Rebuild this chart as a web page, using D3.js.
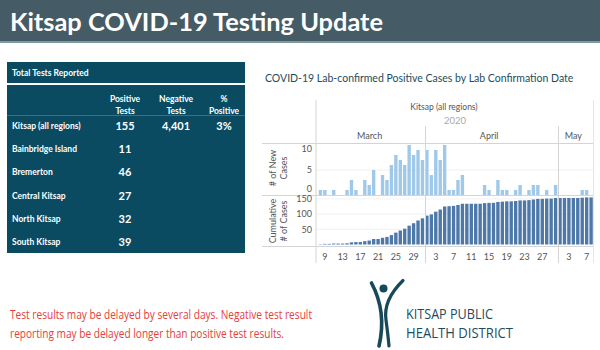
<!DOCTYPE html>
<html>
<head>
<meta charset="utf-8">
<script src="https://cdn.jsdelivr.net/npm/d3@7"></script>
<style>
  body { margin: 0; background: #fff; }
  svg { display: block; font-family: Lato, "Open Sans", sans-serif; }
</style>
</head>
<body>
<div id="chart"></div>
<script>
// Table values
const regions = ["Kitsap (all regions)", "Bainbridge Island", "Bremerton", "Central Kitsap", "North Kitsap", "South Kitsap"];
const positiveTests = ["155", "11", "46", "27", "32", "39"];
const negativeTests = ["4,401"];
const pctPositive = ["3%"];
const tableColumns = [["Positive", "Tests"], ["Negative", "Tests"], ["%", "Positive"]];

// Daily series, Mar 8 - May 8 2020
const firstDay = new Date(2020, 2, 8);
const lastDay = new Date(2020, 4, 8);
const newCases = [
  1, 1, 0, 1, 0, 0, 1, 3, 1, 0, 3, 2, 5, 0, 4, 3, 6, 8, 7, 6, 10, 8, 9, 7,
  9, 4, 9, 7, 10, 1, 1, 3, 4, 0, 0, 0, 0, 2, 1, 0, 3, 1, 1, 0, 1, 2, 0, 1, 2, 2, 0, 1, 0, 2,
  0, 0, 0, 0, 0, 1, 1, 0
];
const cumulativeCases = [
  1, 2, 2, 3, 3, 3, 4, 7, 8, 8, 11, 13, 18, 18, 22, 25, 31, 39, 46, 52, 62, 70, 79, 86,
  95, 99, 108, 115, 125, 126, 127, 130, 134, 134, 134, 134, 134, 136, 137, 137, 140, 141, 142, 142, 143, 145, 145, 146, 148, 150, 150, 151, 151, 153,
  153, 153, 153, 153, 153, 154, 155, 155
];
const tickDays = ["2020-03-09", "2020-03-13", "2020-03-17", "2020-03-21", "2020-03-25", "2020-03-29",
  "2020-04-03", "2020-04-07", "2020-04-11", "2020-04-15", "2020-04-19", "2020-04-23", "2020-04-27",
  "2020-05-03", "2020-05-07"];
const months = ["March", "April", "May"];
const newTicks = [0, 5, 10];
const cumTicks = [50, 100, 150];

const W = 600, H = 350;
const svg = d3.select("#chart").append("svg").attr("width", W).attr("height", H);

// ---- header
svg.append("rect").attr("x", 0).attr("y", 0).attr("width", W).attr("height", 41).attr("fill", "#455b65");
svg.append("rect").attr("x", 0).attr("y", 41).attr("width", W).attr("height", 2).attr("fill", "#7d999f");
svg.append("text").attr("x", 10).attr("y", 31)
  .attr("fill", "#fff").style("font-size", "24px").style("font-weight", "bold")
  .attr("textLength", 373).attr("lengthAdjust", "spacingAndGlyphs")
  .text("Kitsap COVID-19 Testing Update");

// ---- table
const tbl = svg.append("g");
tbl.append("rect").attr("x", 7).attr("y", 62).attr("width", 238).attr("height", 21).attr("fill", "#0a4b62");
tbl.append("rect").attr("x", 7).attr("y", 85).attr("width", 238).attr("height", 168).attr("fill", "#0a4b62");
tbl.append("line").attr("x1", 7).attr("x2", 245).attr("y1", 115.5).attr("y2", 115.5)
  .attr("stroke", "#3a7189").attr("stroke-width", 1);
tbl.append("text").attr("x", 12).attr("y", 76).attr("fill", "#fff")
  .style("font-size", "8.5px").style("font-weight", "bold").text("Total Tests Reported");

const colX = [125, 176, 224];
tableColumns.forEach((c, i) => {
  c.forEach((line, j) => {
    tbl.append("text").attr("x", colX[i]).attr("y", 102 + j * 11.5)
      .attr("text-anchor", "middle").attr("fill", "#fff")
      .style("font-size", "8.5px").style("font-weight", "bold").text(line);
  });
});

const rowY = d3.scalePoint().domain(regions).range([126, 242]);
regions.forEach((r, i) => {
  const y = rowY(r);
  tbl.append("text").attr("x", 12).attr("y", y + 3).attr("fill", "#fff")
    .style("font-size", "8.5px").style("font-weight", "bold").text(r);
  tbl.append("text").attr("x", colX[0]).attr("y", y + 4).attr("text-anchor", "middle").attr("fill", "#fff")
    .style("font-size", "11px").style("font-weight", "bold").text(positiveTests[i]);
  if (negativeTests[i]) {
    tbl.append("text").attr("x", colX[1]).attr("y", y + 4).attr("text-anchor", "middle").attr("fill", "#fff")
      .style("font-size", "11px").style("font-weight", "bold").text(negativeTests[i]);
  }
  if (pctPositive[i]) {
    tbl.append("text").attr("x", colX[2]).attr("y", y + 4).attr("text-anchor", "middle").attr("fill", "#fff")
      .style("font-size", "11px").style("font-weight", "bold").text(pctPositive[i]);
  }
});

// ---- chart
const days = d3.timeDay.range(firstDay, d3.timeDay.offset(lastDay, 1));
const x = d3.scaleBand().domain(days).range([318.5, 593]).paddingInner(0.24).paddingOuter(0.05);
const xt = d3.scaleTime().domain([firstDay, d3.timeDay.offset(lastDay, 1)]).range([318.5, 593]);
const yNew = d3.scaleLinear().domain([0, 10]).range([195, 145]);
const yCum = d3.scaleLinear().domain([0, 150]).range([244.5, 198.9]);
const grey = "#555";
const lineCol = "#d4d4d4";

const ch = svg.append("g");
ch.append("text").attr("x", 265).attr("y", 82).attr("fill", "#1d4c5e")
  .style("font-size", "10.5px").text("COVID-19 Lab-confirmed Positive Cases by Lab Confirmation Date");
ch.append("text").attr("x", 444).attr("y", 110).attr("text-anchor", "middle").attr("fill", grey)
  .style("font-size", "8.5px").text("Kitsap (all regions)");
ch.append("text").attr("x", 455).attr("y", 123.5).attr("text-anchor", "middle").attr("fill", "#aaa")
  .style("font-size", "9.5px").text("2020");

// gridlines
newTicks.filter(v => v === 5).forEach(v => {
  ch.append("line").attr("x1", 316).attr("x2", 593).attr("y1", yNew(v)).attr("y2", yNew(v)).attr("stroke", "#efefef");
});
cumTicks.forEach(v => {
  ch.append("line").attr("x1", 316).attr("x2", 593).attr("y1", yCum(v)).attr("y2", yCum(v)).attr("stroke", "#f1f1f1");
});

// bars
ch.append("g").selectAll("rect").data(days).join("rect")
  .attr("x", d => x(d)).attr("width", x.bandwidth())
  .attr("y", (d, i) => yNew(newCases[i])).attr("height", (d, i) => yNew(0) - yNew(newCases[i]))
  .attr("fill", "#a0c8e8");
ch.append("g").selectAll("rect").data(days).join("rect")
  .attr("x", d => x(d)).attr("width", x.bandwidth())
  .attr("y", (d, i) => yCum(cumulativeCases[i])).attr("height", (d, i) => yCum(0) - yCum(cumulativeCases[i]))
  .attr("fill", "#4e78a8");

// pane borders
[143.5, 195.5, 246.5].forEach(y => {
  ch.append("line").attr("x1", 262).attr("x2", 593).attr("y1", y).attr("y2", y).attr("stroke", lineCol);
});
ch.append("line").attr("x1", 316).attr("x2", 316).attr("y1", 100).attr("y2", 263).attr("stroke", lineCol);
ch.append("line").attr("x1", 593.5).attr("x2", 593.5).attr("y1", 100).attr("y2", 263).attr("stroke", "#e6e6e6");
const monthStarts = [new Date(2020, 3, 1), new Date(2020, 4, 1)];
monthStarts.forEach(m => {
  const px = Math.round(xt(m)) + 0.5;
  ch.append("line").attr("x1", px).attr("x2", px).attr("y1", 126).attr("y2", 263).attr("stroke", lineCol);
});

// month labels
const monthEdges = [318.5, xt(monthStarts[0]), xt(monthStarts[1]), 593];
months.forEach((m, i) => {
  ch.append("text").attr("x", (monthEdges[i] + monthEdges[i + 1]) / 2 - 2).attr("y", 139)
    .attr("text-anchor", "middle").attr("fill", grey).style("font-size", "9px").text(m);
});

// day tick labels
const parse = d3.timeParse("%Y-%m-%d");
const xAxis = ch.append("g").attr("transform", "translate(0,247)")
  .call(d3.axisBottom(x).tickValues(tickDays.map(parse)).tickSize(0).tickPadding(7).tickFormat(d3.timeFormat("%-d")));
xAxis.select(".domain").remove();
xAxis.selectAll("text").attr("fill", grey).style("font-size", "9px").style("font-family", "Lato, sans-serif");

// y tick labels
const yAxNew = ch.append("g").attr("transform", "translate(312,0)")
  .call(d3.axisLeft(yNew).tickValues(newTicks).tickSize(0).tickPadding(0));
yAxNew.select(".domain").remove();
yAxNew.selectAll(".tick").attr("transform", d => `translate(0,${Math.max(149, Math.min(189, yNew(d)))})`);
const yAxCum = ch.append("g").attr("transform", "translate(312,0)")
  .call(d3.axisLeft(yCum).tickValues(cumTicks).tickSize(0).tickPadding(0));
yAxCum.select(".domain").remove();
ch.selectAll(".tick text").attr("fill", grey).style("font-size", "9px").style("font-family", "Lato, sans-serif");

// y titles
function yTitle(lines, cy) {
  lines.forEach((t, i) => {
    ch.append("text").attr("transform", `translate(${276 + i * 11},${cy}) rotate(-90)`)
      .attr("text-anchor", "middle").attr("fill", grey).style("font-size", "9px").text(t);
  });
}
yTitle(["# of New", "Cases"], 168);
yTitle(["Cumulative", "# of Cases"], 221);

// ---- footer note
const note = ["Test results may be delayed by several days. Negative test result",
  "reporting may be delayed longer than positive test results."];
const noteW = [302, 274];
note.forEach((t, i) => {
  svg.append("text").attr("x", 10).attr("y", 319 + i * 18.5).attr("fill", "#e5403a")
    .style("font-family", "'Open Sans', sans-serif").style("font-size", "12px")
    .attr("textLength", noteW[i]).attr("lengthAdjust", "spacingAndGlyphs").text(t);
});

// ---- logo
const logo = svg.append("g").attr("fill", "none").attr("stroke", "#17495a").attr("stroke-linecap", "round");
logo.append("circle").attr("cx", 383.5).attr("cy", 288.5).attr("r", 4).attr("fill", "#17495a").attr("stroke", "none");
logo.append("path").attr("d", "M371.5,283 Q387,312 379,346").attr("stroke-width", 3.6);
logo.append("path").attr("d", "M403,280.5 Q383,300 386,320 Q388,335 389,346").attr("stroke-width", 3.2);
const logoText = ["KITSAP PUBLIC", "HEALTH DISTRICT"];
const logoW = [87, 107];
logoText.forEach((t, i) => {
  svg.append("text").attr("x", 406).attr("y", 318.5 + i * 19).attr("fill", "#1d4c5e")
    .style("font-family", "'Liberation Sans Narrow', 'Open Sans', sans-serif").style("font-size", "14.5px")
    .attr("textLength", logoW[i]).attr("lengthAdjust", "spacingAndGlyphs").text(t);
});
</script>
</body>
</html>
